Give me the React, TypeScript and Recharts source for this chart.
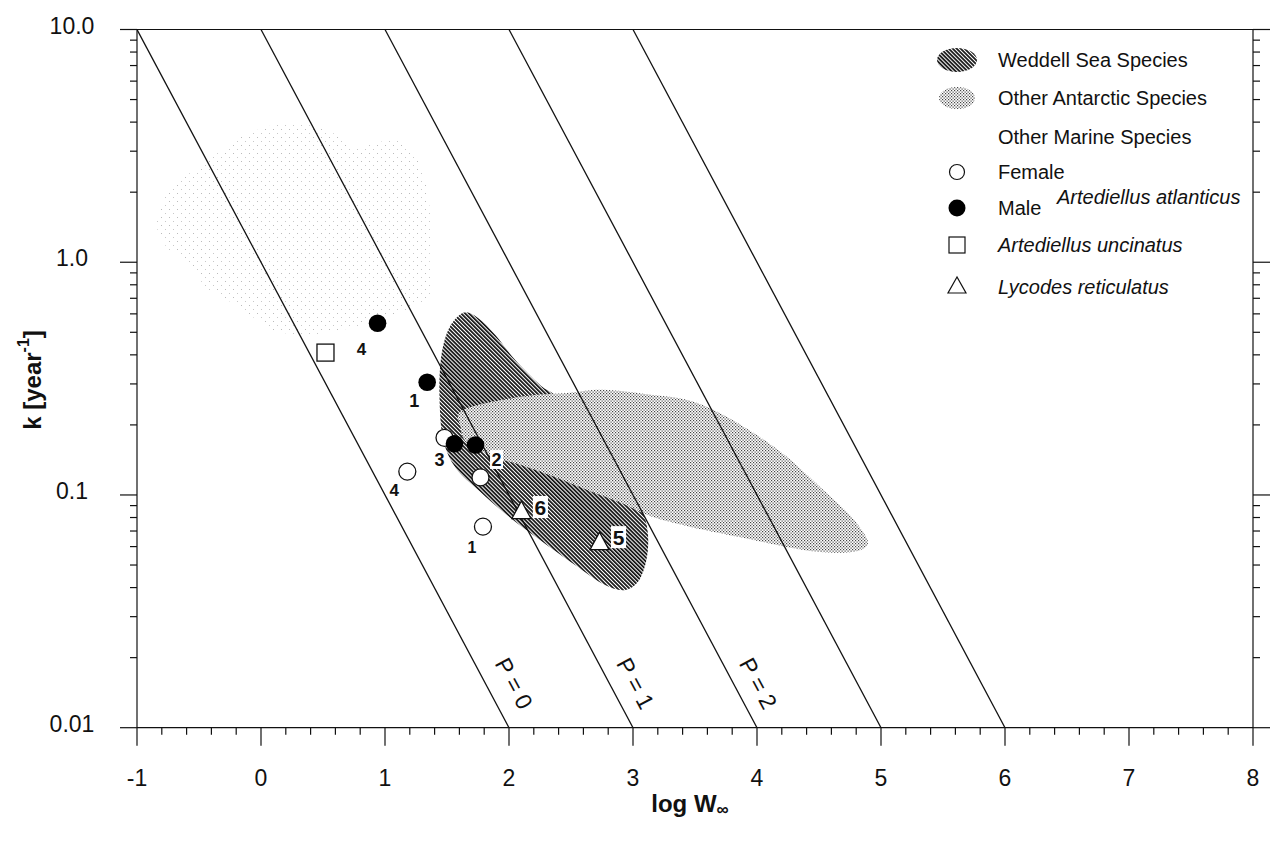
import React from "react";
import { ScatterChart, Scatter, XAxis, YAxis } from "recharts";

const FONT = '"Liberation Sans", Arial, Helvetica, sans-serif';
const INK = "#111";

// axis ticks
const X_TICKS = [-1, 0, 1, 2, 3, 4, 5, 6, 7, 8];
const X_TICK_LABELS = ["-1", "0", "1", "2", "3", "4", "5", "6", "7", "8"];
const Y_TICKS = [0.01, 0.1, 1, 10];
const Y_TICK_LABELS = ["0.01", "0.1", "1.0", "10.0"];

// P isolines: where each one leaves k = 10 and where it reaches k = 0.01
const P_TOP_X = [-1, 0, 1, 2, 3];
const P_BOTTOM_X = [2, 3, 4, 5, 6];
const P_LABELS = ["P = 0", "P = 1", "P = 2"];
const P_LABEL_X = [2.04, 3.02, 4.01];
const P_LABEL_K = [0.0155, 0.0155, 0.0155];

// shaded species regions, outline as [log W, k]
const OTHER_MARINE = [
  [-0.84, 1.48], [-0.73, 2.05], [-0.31, 3.04], [-0.09, 3.59], [0.21, 3.97], [0.53, 3.7],
  [0.77, 3.13], [1.07, 3.35], [1.26, 2.83], [1.36, 1.73], [1.36, 1.05], [1.32, 0.69],
  [0.64, 0.51], [0.15, 0.5], [-0.17, 0.64], [-0.44, 0.78], [-0.57, 0.99], [-0.76, 1.16],
];
const WEDDELL = [
  [1.63, 0.606], [1.75, 0.576], [1.89, 0.487], [2.05, 0.38], [2.25, 0.297], [2.41, 0.256],
  [2.73, 0.156], [2.98, 0.105], [3.1, 0.0782], [3.12, 0.0581], [3.06, 0.044], [2.94, 0.0391],
  [2.77, 0.0411], [2.53, 0.0501], [2.25, 0.0641], [2.01, 0.0798], [1.77, 0.1031], [1.57, 0.1307],
  [1.47, 0.1726], [1.44, 0.256], [1.45, 0.38], [1.51, 0.512],
];
const OTHER_ANTARCTIC = [
  [1.63, 0.232], [2.09, 0.264], [2.49, 0.275], [2.76, 0.283], [3.16, 0.269], [3.44, 0.256],
  [3.7, 0.225], [3.97, 0.185], [4.24, 0.146], [4.51, 0.108], [4.73, 0.0838], [4.86, 0.0687],
  [4.89, 0.061], [4.77, 0.0569], [4.51, 0.0569], [4.24, 0.0598], [3.97, 0.0641], [3.57, 0.0708],
  [3.16, 0.0805], [2.9, 0.0925], [2.63, 0.105], [2.36, 0.12], [2.09, 0.135], [1.87, 0.146],
  [1.66, 0.168], [1.61, 0.196],
];

// Artediellus atlanticus
const FEMALE_X = [1.48, 1.77, 1.18, 1.79];
const FEMALE_K = [0.176, 0.119, 0.126, 0.0731];
const FEMALE_NO = ["", "", "4", "1"];
const MALE_X = [0.94, 1.34, 1.56, 1.73];
const MALE_K = [0.547, 0.305, 0.166, 0.164];
const MALE_NO = ["4", "1", "3", "2"];
// Artediellus uncinatus
const UNCINATUS_X = [0.52];
const UNCINATUS_K = [0.409];
// Lycodes reticulatus
const LYCODES_X = [2.1, 2.73];
const LYCODES_K = [0.0857, 0.063];
const LYCODES_NO = ["6", "5"];

// label placement next to the markers: dx, dy, font size, white box
const LABEL_OFFSET: Record<string, [number, number, number, boolean]> = {
  "male-4": [-16, 26, 17, false],
  "male-1": [-13, 19, 18, false],
  "male-3": [-15, 16, 18, false],
  "male-2": [21, 15, 18, true],
  "female-4": [-13, 19, 17, false],
  "female-1": [-11, 21, 16, false],
  "tri-6": [19, -3, 21, true],
  "tri-5": [19, -4, 21, true],
};

const minorX: number[] = [];
for (let i = 0; i < X_TICKS.length - 1; i++)
  for (let j = 1; j < 5; j++) minorX.push(+(X_TICKS[i] + j * 0.2).toFixed(1));
const minorY: number[] = [];
for (let d = 0; d < Y_TICKS.length - 1; d++)
  for (let m = 2; m <= 9; m++) minorY.push(+(Y_TICKS[d] * m).toPrecision(2));
const X_ALL = [...X_TICKS, ...minorX].sort((a, b) => a - b);
const Y_ALL = [...Y_TICKS, ...minorY].sort((a, b) => a - b);

const toPts = (arr: number[][]) => arr.map(([x, k]) => ({ x, k }));
const pts = (xs: number[], ks: number[], nos: string[], kind: string) =>
  xs.map((x, i) => ({ x, k: ks[i], id: nos[i] ? `${kind}-${nos[i]}` : "", no: nos[i] }));

const femaleData = pts(FEMALE_X, FEMALE_K, FEMALE_NO, "female");
const maleData = pts(MALE_X, MALE_K, MALE_NO, "male");
const squareData = pts(UNCINATUS_X, UNCINATUS_K, [""], "sq");
const triData = pts(LYCODES_X, LYCODES_K, LYCODES_NO, "tri");
const pLines = P_TOP_X.map((x0, i) => [
  { x: x0, k: 10 },
  { x: P_BOTTOM_X[i], k: 0.01 },
]);
const pLabelData = P_LABELS.map((t, i) => ({ x: P_LABEL_X[i], k: P_LABEL_K[i], t }));

function closedPath(p: { x: number; y: number }[]) {
  const n = p.length;
  if (!n) return "";
  let d = `M${p[0].x},${p[0].y}`;
  for (let i = 0; i < n; i++) {
    const p0 = p[(i - 1 + n) % n], p1 = p[i], p2 = p[(i + 1) % n], p3 = p[(i + 2) % n];
    d += ` C${p1.x + (p2.x - p0.x) / 6},${p1.y + (p2.y - p0.y) / 6} ${p2.x - (p3.x - p1.x) / 6},${p2.y - (p3.y - p1.y) / 6} ${p2.x},${p2.y}`;
  }
  return d + "Z";
}

const Empty = () => <g />;

function NumLabel({ cx, cy, id }: { cx: number; cy: number; id: string }) {
  const o = LABEL_OFFSET[id];
  if (!o) return null;
  const [dx, dy, fs, box] = o;
  const n = id.split("-")[1];
  return (
    <g>
      {box && <rect x={cx + dx - fs * 0.36} y={cy + dy - fs * 0.55} width={fs * 0.72} height={fs * 1.05} fill="#fff" />}
      <text x={cx + dx} y={cy + dy} textAnchor="middle" dominantBaseline="central" fontSize={fs} fontWeight="bold" fill={INK}>
        {n}
      </text>
    </g>
  );
}

const FemaleShape = (p: any) => (
  <g>
    <circle cx={p.cx} cy={p.cy} r={8.5} fill="#fff" stroke={INK} strokeWidth={1.3} />
    <NumLabel cx={p.cx} cy={p.cy} id={p.payload.id} />
  </g>
);
const MaleShape = (p: any) => (
  <g>
    <circle cx={p.cx} cy={p.cy} r={8.8} fill="#000" />
    <NumLabel cx={p.cx} cy={p.cy} id={p.payload.id} />
  </g>
);
const SquareShape = (p: any) => (
  <rect x={p.cx - 8.5} y={p.cy - 8.5} width={17} height={17} fill="#fff" stroke={INK} strokeWidth={1.3} />
);
const TriShape = (p: any) => (
  <g>
    <polygon
      points={`${p.cx},${p.cy - 9.5} ${p.cx - 9.5},${p.cy + 8} ${p.cx + 9.5},${p.cy + 8}`}
      fill="#fff"
      stroke={INK}
      strokeWidth={1.3}
    />
    <NumLabel cx={p.cx} cy={p.cy} id={p.payload.id} />
  </g>
);
const PLabelShape = (p: any) => (
  <text
    transform={`translate(${p.cx},${p.cy}) rotate(62)`}
    textAnchor="middle"
    dominantBaseline="central"
    fontSize={23}
    fill={INK}
  >
    {p.payload.t}
  </text>
);

const isMajorX = (v: number) => X_TICKS.includes(v);
const isMajorY = (v: number) => Math.abs(Math.log10(v) - Math.round(Math.log10(v))) < 1e-6;

const BottomTick = (p: any) => {
  const v = p.payload.value;
  const i = X_TICKS.indexOf(v);
  return (
    <g>
      <line x1={p.x} x2={p.x} y1={p.y} y2={p.y + (i >= 0 ? 18 : 7)} stroke={INK} strokeWidth={1.2} />
      {i >= 0 && (
        <text x={p.x} y={p.y + 50} textAnchor="middle" dominantBaseline="central" fontSize={23} fill={INK}>
          {X_TICK_LABELS[i]}
        </text>
      )}
    </g>
  );
};
const TopTick = (p: any) => (
  <line x1={p.x} x2={p.x} y1={p.y} y2={p.y - (isMajorX(p.payload.value) ? 17 : 7)} stroke={INK} strokeWidth={1.2} />
);
const LeftTick = (p: any) => {
  const v = p.payload.value;
  const i = Y_TICKS.findIndex((t) => Math.abs(t - v) < 1e-9);
  return (
    <g>
      <line x1={p.x} x2={p.x - (i >= 0 ? 17 : 7)} y1={p.y} y2={p.y} stroke={INK} strokeWidth={1.2} />
      {i >= 0 && (
        <text x={72} y={p.y - 4} textAnchor="middle" dominantBaseline="central" fontSize={23} fill={INK}>
          {Y_TICK_LABELS[i]}
        </text>
      )}
    </g>
  );
};
const RightTick = (p: any) => (
  <line x1={p.x} x2={p.x + (isMajorY(p.payload.value) ? 17 : 7)} y1={p.y} y2={p.y} stroke={INK} strokeWidth={1.2} />
);

function Patterns() {
  return (
    <svg width={0} height={0} style={{ position: "absolute" }}>
      <defs>
        <pattern id="hatch" width={2.8} height={2.8} patternUnits="userSpaceOnUse" patternTransform="rotate(-45)">
          <rect width={2.8} height={2.8} fill="#fff" />
          <line x1={0.8} y1={0} x2={0.8} y2={2.8} stroke="#111" strokeWidth={1.9} />
        </pattern>
        <pattern id="stipple" width={3} height={3} patternUnits="userSpaceOnUse">
          <rect width={3} height={3} fill="#fff" />
          <rect x={0} y={0} width={1.2} height={1.2} fill="#444" />
          <rect x={1.5} y={1.5} width={1.2} height={1.2} fill="#444" />
        </pattern>
        <pattern id="faint" width={8} height={8} patternUnits="userSpaceOnUse">
          <rect x={1} y={1} width={1} height={1} fill="#bbb" />
          <rect x={5} y={5} width={1} height={1} fill="#c8c8c8" />
        </pattern>
      </defs>
    </svg>
  );
}

function LegendBox() {
  const tx = 998;
  const ix = 957;
  const t = (y: number, s: string, italic = false, x = tx) => (
    <text x={x} y={y} dominantBaseline="central" fontSize={20} fontStyle={italic ? "italic" : "normal"} fill={INK}>
      {s}
    </text>
  );
  return (
    <svg
      width={1278}
      height={843}
      style={{ position: "absolute", left: 0, top: 0, pointerEvents: "none", fontFamily: FONT }}
    >
      <ellipse cx={ix} cy={60} rx={20} ry={12} fill="url(#hatch)" />
      {t(60, "Weddell Sea Species")}
      <ellipse cx={ix} cy={98} rx={18} ry={11} fill="url(#stipple)" />
      {t(98, "Other Antarctic Species")}
      {t(137, "Other Marine Species")}
      <circle cx={ix} cy={172} r={7.5} fill="#fff" stroke={INK} strokeWidth={1.2} />
      {t(172, "Female")}
      <circle cx={ix} cy={208} r={8.5} fill="#000" />
      {t(208, "Male")}
      {t(197, "Artediellus atlanticus", true, 1057)}
      <rect x={ix - 8} y={237} width={16} height={16} fill="#fff" stroke={INK} strokeWidth={1.2} />
      {t(245, "Artediellus uncinatus", true)}
      <polygon points={`${ix},${277} ${ix - 9},${293} ${ix + 9},${293}`} fill="#fff" stroke={INK} strokeWidth={1.2} />
      {t(287, "Lycodes reticulatus", true)}
      <text x={690} y={803} textAnchor="middle" dominantBaseline="central" fontSize={24} fontWeight="bold" fill={INK}>
        log W<tspan dy={6} fontSize={17}>∞</tspan>
      </text>
      <text
        transform="translate(32,380) rotate(-90)"
        textAnchor="middle"
        dominantBaseline="central"
        fontSize={24}
        fontWeight="bold"
        fill={INK}
      >
        k [year<tspan dy={-9} fontSize={16}>-1</tspan>
        <tspan dy={9}>]</tspan>
      </text>
    </svg>
  );
}

const region = (fill: string) => (lp: any) => <path d={closedPath(lp.points || [])} fill={fill} stroke="none" />;

export default function App() {
  return (
    <div style={{ position: "fixed", left: 0, top: 0, width: 1278, height: 843, background: "#fff", fontFamily: FONT }}>
      <Patterns />
      <ScatterChart
        width={1278}
        height={843}
        margin={{ top: 14.5, right: 10, bottom: 55.3, left: 77 }}
        style={{ fontFamily: FONT }}
      >
        <XAxis
          xAxisId="b"
          dataKey="x"
          type="number"
          domain={[-1, 8]}
          ticks={X_ALL}
          interval={0}
          allowDataOverflow
          height={60}
          tickSize={0}
          tickMargin={0}
          tickLine={false}
          tick={BottomTick}
          axisLine={{ stroke: INK, strokeWidth: 1.2 }}
        />
        <XAxis
          xAxisId="t"
          orientation="top"
          type="number"
          domain={[-1, 8]}
          ticks={X_ALL}
          interval={0}
          allowDataOverflow
          height={15}
          tickSize={0}
          tickMargin={0}
          tickLine={false}
          tick={TopTick}
          axisLine={{ stroke: INK, strokeWidth: 1.2 }}
        />
        <YAxis
          yAxisId="l"
          dataKey="k"
          type="number"
          scale="log"
          domain={[0.01, 10]}
          ticks={Y_ALL}
          interval={0}
          allowDataOverflow
          width={60}
          tickSize={0}
          tickMargin={0}
          tickLine={false}
          tick={LeftTick}
          axisLine={{ stroke: INK, strokeWidth: 1.2 }}
        />
        <YAxis
          yAxisId="r"
          orientation="right"
          type="number"
          scale="log"
          domain={[0.01, 10]}
          ticks={Y_ALL}
          interval={0}
          allowDataOverflow
          width={15}
          tickSize={0}
          tickMargin={0}
          tickLine={false}
          tick={RightTick}
          axisLine={{ stroke: INK, strokeWidth: 1.2 }}
        />

        <Scatter xAxisId="b" yAxisId="l" data={toPts(OTHER_MARINE)} shape={Empty} line={region("url(#faint)")} lineType="joint" isAnimationActive={false} />
        <Scatter xAxisId="b" yAxisId="l" data={toPts(WEDDELL)} shape={Empty} line={region("url(#hatch)")} lineType="joint" isAnimationActive={false} />
        <Scatter xAxisId="b" yAxisId="l" data={toPts(OTHER_ANTARCTIC)} shape={Empty} line={region("url(#stipple)")} lineType="joint" isAnimationActive={false} />

        {pLines.map((d, i) => (
          <Scatter
            key={`p${i}`}
            xAxisId="b"
            yAxisId="l"
            data={d}
            shape={Empty}
            line={{ stroke: INK, strokeWidth: 1.3 }}
            lineType="joint"
            isAnimationActive={false}
          />
        ))}
        <Scatter xAxisId="b" yAxisId="l" data={pLabelData} shape={PLabelShape} isAnimationActive={false} />

        <Scatter xAxisId="b" yAxisId="l" data={squareData} shape={SquareShape} isAnimationActive={false} />
        <Scatter xAxisId="b" yAxisId="l" data={femaleData} shape={FemaleShape} isAnimationActive={false} />
        <Scatter xAxisId="b" yAxisId="l" data={maleData} shape={MaleShape} isAnimationActive={false} />
        <Scatter xAxisId="b" yAxisId="l" data={triData} shape={TriShape} isAnimationActive={false} />
      </ScatterChart>
      <LegendBox />
    </div>
  );
}
